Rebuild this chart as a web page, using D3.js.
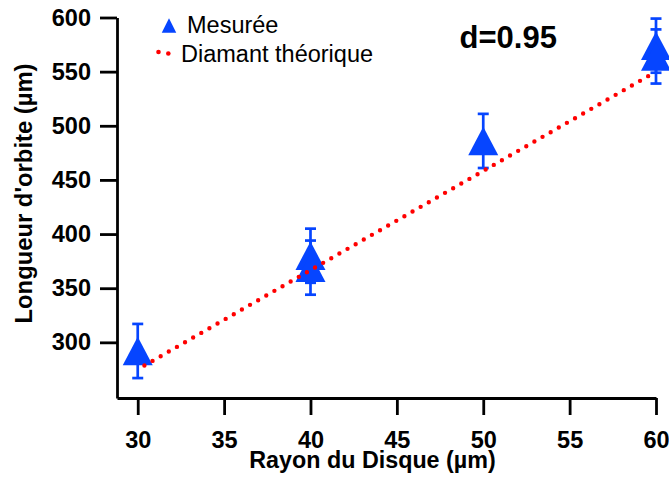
<!DOCTYPE html>
<html>
<head>
<meta charset="utf-8">
<script src="https://cdn.jsdelivr.net/npm/d3@7"></script>
<style>
  html, body { margin: 0; padding: 0; background: #fff; }
  svg { display: block; }
  text { font-family: "Liberation Sans", Arial, sans-serif; fill: #000; }
</style>
</head>
<body>
<div id="chart"></div>
<script>
// ---- data ----
const radius = [30, 40, 40, 50, 60, 60];
const measured = [292, 380, 369, 486, 574, 564];
const errors = [25, 25, 25, 25, 25, 25];
const theoryRadius = [30, 40, 50, 60];
const theoryValues = [275, 366.7, 458.3, 550];
const xTicks = [30, 35, 40, 45, 50, 55, 60];
const yTicks = [300, 350, 400, 450, 500, 550, 600];
const xTitle = "Rayon du Disque (µm)";
const yTitle = "Longueur d'orbite (µm)";
const legendLabels = ["Mesurée", "Diamant théorique"];
const annotation = "d=0.95";

const W = 669, H = 478;
const BLUE = "#0645ff", RED = "#ff0000";

const svg = d3.select("#chart").append("svg").attr("width", W).attr("height", H);

const x = d3.scaleLinear().domain([28.8, 60]).range([117, 656]);
const y = d3.scaleLinear().domain([248.6, 600]).range([398, 17.5]);

// axes
const xAxis = svg.append("g").attr("transform", "translate(0,398)")
  .call(d3.axisBottom(x).tickValues(xTicks).tickSize(17).tickSizeOuter(0).tickPadding(16.5));
const yAxis = svg.append("g").attr("transform", "translate(117,0)")
  .call(d3.axisLeft(y).tickValues(yTicks).tickSize(17).tickSizeOuter(0).tickPadding(9));

[xAxis, yAxis].forEach(g => {
  g.select(".domain").attr("stroke", "#000").attr("stroke-width", 2.8);
  g.selectAll(".tick line").attr("stroke", "#000").attr("stroke-width", 2.8);
  g.selectAll(".tick text").attr("font-size", 23.5).attr("font-weight", "bold")
    .attr("font-family", "'Liberation Sans', Arial, sans-serif").attr("fill", "#000");
});

// axis titles
svg.append("text").attr("x", 372.5).attr("y", 467.5).attr("text-anchor", "middle")
  .attr("font-size", 23.3).attr("font-weight", "bold").text(xTitle);
svg.append("text").attr("transform", "translate(31.5,193.5) rotate(-90)").attr("text-anchor", "middle")
  .attr("font-size", 23.8).attr("font-weight", "bold").text(yTitle);

// measured points
const pts = radius.map((r, i) => ({ r, v: measured[i], e: errors[i] }));
const eb = svg.append("g").attr("stroke", BLUE).attr("stroke-width", 2.7);
pts.forEach(p => {
  const cx = x(p.r), y1 = y(p.v + p.e), y2 = y(p.v - p.e);
  eb.append("line").attr("x1", cx).attr("x2", cx).attr("y1", y1).attr("y2", y2);
  eb.append("line").attr("x1", cx - 5.5).attr("x2", cx + 5.5).attr("y1", y1).attr("y2", y1);
  eb.append("line").attr("x1", cx - 5.5).attr("x2", cx + 5.5).attr("y1", y2).attr("y2", y2);
});
const tri = (cx, cy, w, h) => `M${cx},${cy - h / 2}L${cx + w / 2},${cy + h / 2}L${cx - w / 2},${cy + h / 2}Z`;
svg.append("g").selectAll("path").data(pts).join("path")
  .attr("d", p => tri(x(p.r), y(p.v), 30, 28.5)).attr("fill", BLUE);

// theoretical dotted line
const line = d3.line().x(d => x(d[0])).y(d => y(d[1]));
svg.append("path").datum(theoryRadius.map((r, i) => [r, theoryValues[i]]))
  .attr("d", line).attr("fill", "none").attr("stroke", RED).attr("stroke-width", 4.4)
  .attr("stroke-linecap", "round").attr("stroke-dasharray", "0 9.37").attr("stroke-dashoffset", 1.66);

// legend
svg.append("path").attr("d", tri(169, 25.5, 14.5, 14.4)).attr("fill", BLUE);
svg.append("text").attr("x", 187).attr("y", 33.3).attr("font-size", 23.5).text(legendLabels[0]);
[[158.5, 52], [168.3, 53.5]].forEach(c => svg.append("circle").attr("cx", c[0]).attr("cy", c[1]).attr("r", 2.3).attr("fill", RED));
svg.append("text").attr("x", 181).attr("y", 61.7).attr("font-size", 23.5).text(legendLabels[1]);

// annotation
svg.append("text").attr("x", 459.5).attr("y", 48.3).attr("font-size", 31).attr("font-weight", "bold").text(annotation);
</script>
</body>
</html>
